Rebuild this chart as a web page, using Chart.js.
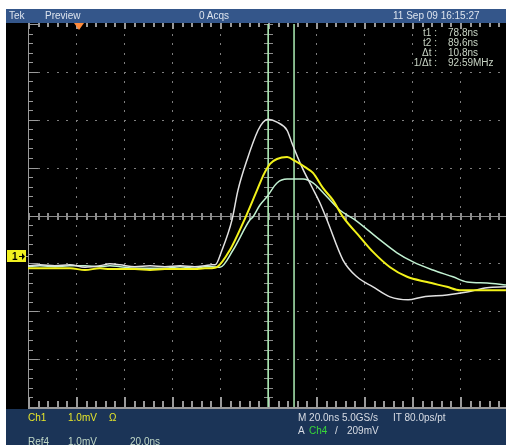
<!DOCTYPE html>
<html><head><meta charset="utf-8">
<script src="https://cdn.jsdelivr.net/npm/chart.js@4.4.1/dist/chart.umd.min.js"></script>
<style>
body{margin:0;width:506px;height:445px;overflow:hidden;background:#fff;position:relative;font:10px "Liberation Sans",Arial,sans-serif}
.bg{position:absolute;left:6px;width:500px}
#top{top:9px;height:14px;background:#34568a}
#scr{top:23px;height:386px;background:#000}
#bot{top:409px;height:36px;background:#1b3457}
#c{position:absolute;left:0;top:0}
.t{position:absolute;white-space:nowrap;line-height:10px}
.hd{color:#dde4ee;top:11px}
.cr{color:#c8d4c4}
.cr.l{right:69px;text-align:right}
.cr.v{left:448px}
.w{color:#d8dce4}
.y{color:#e6e62a}
.g{color:#38d838}
.r{color:#c0d8c8}
</style></head>
<body>
<div id="top" class="bg"></div>
<div id="scr" class="bg"></div>
<div id="bot" class="bg"></div>
<canvas id="c" width="512" height="445"></canvas>

<div class="t hd" style="left:9px">Tek</div>
<div class="t hd" style="left:45px">Preview</div>
<div class="t hd" style="left:199px">0 Acqs</div>
<div class="t hd" style="left:393px">11 Sep 09 16:15:27</div>

<div class="t cr l" style="top:28px">t1 :</div><div class="t cr v" style="top:28px">78.8ns</div>
<div class="t cr l" style="top:38px">t2 :</div><div class="t cr v" style="top:38px">89.6ns</div>
<div class="t cr l" style="top:48px">Δt :</div><div class="t cr v" style="top:48px">10.8ns</div>
<div class="t cr l" style="top:58px">1/Δt :</div><div class="t cr v" style="top:58px">92.59MHz</div>

<div class="t y" style="left:28px;top:413px">Ch1</div>
<div class="t y" style="left:68px;top:413px">1.0mV</div>
<div class="t y" style="left:109px;top:413px">Ω</div>
<div class="t w" style="left:298px;top:413px">M 20.0ns 5.0GS/s</div>
<div class="t w" style="left:393px;top:413px">IT 80.0ps/pt</div>
<div class="t w" style="left:298px;top:426px">A</div>
<div class="t g" style="left:309px;top:426px">Ch4</div>
<div class="t w" style="left:335px;top:426px">/</div>
<div class="t w" style="left:347px;top:426px">209mV</div>
<div class="t r" style="left:28px;top:437px">Ref4</div>
<div class="t r" style="left:68px;top:437px">1.0mV</div>
<div class="t r" style="left:130px;top:437px">20.0ns</div>

<script>
// 화면: 가로 10칸 × 20ns, 세로 8칸 × 1.0mV (트리거 = 0ns)
const X_MIN = -21.25, X_MAX = 178.75, NS_DIV = 20;
const Y_MIN = -4, Y_MAX = 4;
const CURSORS = [78.8, 89.6];   // t1, t2
const CH1_LEVEL = -0.84;        // "1→" 접지 마커
const TRIG_T = 0;

// 흰색 파형 (ns, div)
const WHT_T = [-21.25, -16.25, -10.0, -3.75, 2.5, 8.75, 12.9, 17.1, 23.3, 29.6, 35.8, 42.1, 48.3, 52.5, 55.4,
  56.7, 59.6, 63.75, 66.25, 70.0, 74.6, 76.7, 78.75, 82.5, 86.7, 88.75, 92.9, 97.1, 100.4, 103.3,
  110.0, 115.8, 122.5, 129.6, 137.1, 143.3, 153.3, 161.7, 170.0, 177.9];
const WHT_V = [-1.05, -1.03, -1.05, -1.03, -1.08, -1.05, -1.01, -1.03, -1.07, -1.05, -1.07, -1.05, -1.07, -1.05, -1.03,
  -1.03, -0.72, -0.09, 0.53, 1.16, 1.78, 1.95, 2.01, 1.95, 1.78, 1.51, 1.01, 0.59, 0.26, -0.09,
  -0.93, -1.28, -1.49, -1.70, -1.76, -1.70, -1.66, -1.60, -1.51, -1.49];

// 노란색 파형 (Ch1)
const YEL_T = [-21.25, -16.25, -10.0, -3.75, 2.5, 8.75, 12.9, 17.1, 23.3, 29.6, 35.8, 42.1, 48.3, 52.5, 55.4,
  57.5, 62.9, 68.3, 74.2, 77.1, 79.6, 82.5, 86.7, 90.0, 94.2, 97.5, 101.7, 105.8, 110.0,
  117.1, 122.5, 129.6, 136.7, 145.0, 153.3, 158.75, 172.5, 177.9];
const YEL_V = [-1.10, -1.10, -1.10, -1.10, -1.14, -1.10, -1.12, -1.12, -1.12, -1.14, -1.12, -1.12, -1.12, -1.10, -1.10,
  -1.08, -0.72, -0.16, 0.53, 0.87, 1.08, 1.18, 1.22, 1.14, 1.01, 0.89, 0.57, 0.32, -0.03,
  -0.45, -0.76, -1.08, -1.28, -1.39, -1.49, -1.56, -1.56, -1.56];

// 연녹색 파형 (Ref4)
const GRN_T = [-21.25, -16.25, -10.0, -3.75, 2.5, 8.75, 12.9, 17.1, 23.3, 29.6, 35.8, 42.1, 48.3, 52.5, 55.4,
  58.75, 64.2, 71.25, 72.5, 75.4, 78.3, 82.5, 86.7, 93.3, 97.5, 103.3, 108.75, 115.0,
  125.4, 132.5, 139.2, 147.5, 155.8, 161.7, 170.0, 177.9];
const GRN_V = [-1.07, -1.05, -1.07, -1.05, -1.05, -1.07, -1.05, -1.07, -1.10, -1.10, -1.10, -1.07, -1.10, -1.07, -1.07,
  -1.08, -0.72, -0.09, -0.03, 0.22, 0.39, 0.68, 0.76, 0.76, 0.68, 0.39, 0.11, -0.09,
  -0.51, -0.78, -0.97, -1.14, -1.28, -1.39, -1.41, -1.45];

const pts = (ts, vs) => ts.map((t, i) => ({ x: t, y: vs[i] }));

// 눈금판: 점선 주눈금 + 중앙 십자 + 가장자리 눈금
const graticule = {
  id: "graticule",
  beforeDatasetsDraw(chart) {
    const { ctx, chartArea: a, scales: { x, y } } = chart;
    const xs = [], ys = [];
    for (let i = 0; i <= 50; i++) xs.push(Math.round(x.getPixelForValue(X_MIN + i * NS_DIV / 5)));
    for (let j = 0; j <= 40; j++) ys.push(Math.round(y.getPixelForValue(Y_MIN + j / 5)));
    const cx = xs[25], cy = ys[20];
    const top = Math.round(a.top), bot = Math.round(a.bottom), left = Math.round(a.left);
    ctx.save();
    ctx.fillStyle = "#7e7e7e";
    for (let i = 5; i < 50; i += 5) if (i !== 25) for (const py of ys) ctx.fillRect(xs[i], py, 1, 2);
    for (let j = 5; j < 40; j += 5) if (j !== 20) for (const px of xs) ctx.fillRect(px, ys[j], 2, 1);
    ctx.fillStyle = "#8c8c8c";
    ctx.fillRect(left, cy, a.right - left, 1);
    ctx.fillRect(cx, top, 1, bot - top);
    for (const px of xs) ctx.fillRect(px, cy - 3, 2, 7);
    for (const py of ys) ctx.fillRect(cx - 4, py, 9, 1);
    ctx.fillStyle = "#9a9a9a";
    ctx.fillRect(left, top, 1, bot - top);
    ctx.fillRect(left, bot, a.right - left, 2);
    xs.forEach((px, i) => {
      const len = i % 5 ? 6 : 10;
      ctx.fillRect(px, bot - len, 2, len);
      ctx.fillRect(px, top - 1, 2, i % 5 ? 4 : 6);
    });
    ys.forEach((py, j) => ctx.fillRect(left, py, j % 5 ? 5 : 10, 1));
    ctx.restore();
  },
  afterDraw(chart) {
    const { ctx, chartArea: a, scales: { x, y } } = chart;
    ctx.save();
    // 트리거 위치
    const tx = Math.round(x.getPixelForValue(TRIG_T));
    ctx.fillStyle = "#ff8a3a";
    ctx.beginPath();
    ctx.moveTo(tx - 5, a.top - 1); ctx.lineTo(tx + 5, a.top - 1); ctx.lineTo(tx, a.top + 6);
    ctx.closePath(); ctx.fill();
    // Ch1 접지 마커
    const my = Math.round(y.getPixelForValue(CH1_LEVEL));
    ctx.fillStyle = "#f0f020";
    ctx.fillRect(7, my - 6, 19, 12);
    ctx.fillStyle = "#000";
    ctx.font = "bold 10px 'Liberation Sans', Arial, sans-serif";
    ctx.textBaseline = "middle";
    ctx.fillText("1", 12, my + 1);
    ctx.fillRect(19, my, 4, 1);
    ctx.beginPath();
    ctx.moveTo(22, my - 3); ctx.lineTo(25, my + 0.5); ctx.lineTo(22, my + 4);
    ctx.closePath(); ctx.fill();
    ctx.fillStyle = "#9a9a9a";
    ctx.fillRect(26, my, 2, 1);
    ctx.restore();
  },
};

new Chart(document.getElementById("c"), {
  type: "line",
  data: {
    datasets: [
      { data: pts(YEL_T, YEL_V), borderColor: "#f2f21a", borderWidth: 2, cubicInterpolationMode: "monotone" },
      { data: pts(WHT_T, WHT_V), borderColor: "#e2e2e2", borderWidth: 1.5, cubicInterpolationMode: "monotone" },
      { data: pts(GRN_T, GRN_V), borderColor: "#c2f2d2", borderWidth: 1.5, cubicInterpolationMode: "monotone" },
      ...CURSORS.map((t) => ({ data: [{ x: t, y: Y_MIN }, { x: t, y: Y_MAX }], borderColor: "#aef0b6", borderWidth: 1.5 })),
    ],
  },
  options: {
    responsive: false, animation: false, devicePixelRatio: 1,
    layout: { padding: { left: 28, right: 4, top: 24, bottom: 38 } },
    elements: { point: { radius: 0 } },
    plugins: { legend: { display: false }, tooltip: { enabled: false } },
    scales: {
      x: { type: "linear", min: X_MIN, max: X_MAX, display: false },
      y: { min: Y_MIN, max: Y_MAX, display: false },
    },
  },
  plugins: [graticule],
});
</script>
</body></html>
